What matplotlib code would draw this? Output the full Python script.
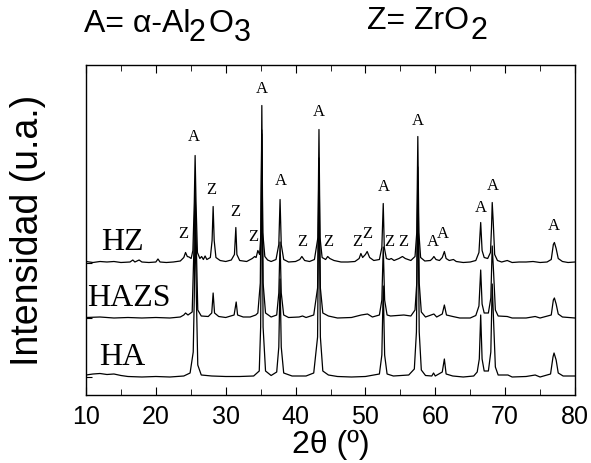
import numpy as np
import matplotlib
matplotlib.use("Agg")
import matplotlib.pyplot as plt
from matplotlib.ticker import MultipleLocator

# XRD patterns, 2theta (deg) and intensity above each curve's own baseline (a.u.)
hz_2t = [10.0, 11.0, 12.0, 13.0, 14.0, 15.0, 16.3, 16.7, 17.0, 17.6, 18.0, 19.0, 20.0, 20.3, 20.6,
         21.5, 22.5, 23.5, 24.0, 24.25, 24.5, 24.75, 25.05, 25.3, 25.5, 25.62, 25.75, 25.95, 26.3,
         26.55, 26.8, 27.05, 27.3, 27.8, 28.05, 28.2, 28.35, 28.6, 29.2, 30.0, 30.8, 31.25, 31.45,
         31.6, 32.0, 33.0, 33.8, 34.15, 34.35, 34.6, 34.85, 35.05, 35.17, 35.3, 35.6, 36.0, 36.5,
         37.2, 37.6, 37.78, 37.95, 38.3, 39.0, 40.0, 40.6, 40.9, 41.3, 42.0, 42.7, 43.2, 43.35,
         43.5, 43.8, 44.3, 44.6, 44.9, 45.5, 46.5, 47.5, 48.5, 49.1, 49.35, 49.6, 50.0, 50.25,
         50.6, 51.2, 52.0, 52.35, 52.55, 52.7, 53.0, 53.4, 53.7, 54.1, 54.8, 55.3, 55.7, 56.5,
         57.1, 57.35, 57.5, 57.65, 57.9, 58.5, 59.3, 59.6, 59.8, 60.1, 60.6, 61.0, 61.3, 61.55,
         62.0, 62.6, 63.0, 64.0, 65.0, 65.8, 66.25, 66.5, 66.7, 67.0, 67.5, 67.9, 68.05, 68.15,
         68.3, 68.5, 68.9, 69.5, 70.3, 71.0, 72.0, 73.0, 74.0, 75.0, 76.0, 76.6, 76.9, 77.05,
         77.3, 77.6, 78.2, 79.0, 80.0]
hz_int = [1, 0, 1, 0.5, 1, 0, 0.5, 2.5, 0.5, 2.5, 0.5, 0, 0.5, 3.5, 0.5,
          0, 0.5, 1.5, 5, 10, 6, 5.5, 4, 12, 60, 107, 60, 10, 4,
          6, 3, 6.5, 3, 5, 22, 56, 22, 5, 2, 1, 2.5, 8, 35,
          8, 2, 1, 4, 6, 5, 12, 8, 30, 157, 30, 6, 2.5, 1,
          3, 18, 63, 18, 3, 0.5, 1, 3, 6, 2, 1, 3, 25, 133,
          25, 5, 3, 6, 4, 2, 0.5, 0.5, 1, 4, 9, 5, 8, 11,
          5, 2, 3, 15, 59, 15, 4, 3, 4, 2, 4, 6, 4, 2,
          6, 30, 126, 30, 5, 1.5, 2, 4, 6, 3, 2, 5, 11, 4,
          2, 3, 1, 0, 0.5, 2, 10, 40, 12, 5, 4, 10, 35, 60,
          40, 8, 2, 0.5, 2, 0, 0.5, 0.5, 1, 0, 0.5, 3, 18, 20,
          14, 4, 1, 0, 0.5]

hazs_2t = [10.0, 12.0, 14.0, 16.0, 18.0, 20.0, 22.0, 23.5, 24.0, 24.25, 24.6, 25.2, 25.45, 25.62,
           25.8, 26.0, 26.5, 27.5, 28.0, 28.2, 28.4, 29.0, 30.0, 31.2, 31.5, 31.7, 32.5, 33.5,
           34.3, 34.6, 34.95, 35.17, 35.35, 35.7, 36.5, 37.3, 37.6, 37.78, 37.95, 38.3, 39.0,
           40.5, 41.0, 41.5, 42.6, 43.15, 43.35, 43.55, 43.9, 44.7, 46.0, 48.0, 49.4, 50.3, 51.0,
           52.0, 52.35, 52.55, 52.75, 53.1, 53.6, 55.5, 56.5, 57.1, 57.35, 57.5, 57.7, 58.0, 58.6,
           59.8, 60.2, 61.0, 61.3, 61.6, 62.5, 63.5, 65.0, 65.8, 66.25, 66.5, 66.7, 67.0, 67.6,
           67.95, 68.15, 68.35, 68.6, 69.0, 70.3, 71.0, 73.0, 74.3, 75.0, 76.6, 76.9, 77.05, 77.3,
           77.6, 78.2, 80.0]
hazs_int = [0.5, 1, 0, 0.5, 0, 0.5, 0, 1, 3, 5, 3, 6, 70, 128,
            70, 8, 2, 1.5, 5, 25, 5, 1.5, 0.5, 3, 16, 3, 1, 1,
            3, 5, 35, 188, 35, 5, 1, 3, 25, 76, 25, 3, 0.5,
            1, 2, 0.5, 3, 30, 160, 30, 5, 2, 0, 0.5, 3, 4, 1,
            3, 18, 71, 18, 3, 2, 3, 2, 8, 35, 151, 35, 6, 1,
            4, 1, 4, 13, 3, 1.5, 0, 0, 2.5, 12, 48, 14, 5, 5,
            20, 72, 45, 8, 2, 1.5, 0, 0, 1.5, 0, 3, 18, 20, 14,
            4, 1, 0]

ha_2t = [10.0, 11.0, 12.0, 13.0, 14.0, 15.0, 16.0, 18.0, 20.0, 22.0, 24.0, 24.9, 25.35, 25.5,
         25.62, 25.8, 26.0, 26.5, 28.0, 30.0, 32.0, 34.0, 34.8, 35.0, 35.17, 35.35, 35.7, 36.5,
         37.3, 37.6, 37.78, 37.95, 38.3, 39.5, 41.5, 42.6, 43.15, 43.35, 43.55, 43.9, 44.7,
         46.0, 48.0, 50.0, 52.0, 52.35, 52.55, 52.75, 53.1, 54.0, 56.2, 57.0, 57.3, 57.5, 57.7,
         58.0, 58.6, 59.5, 59.75, 60.0, 61.0, 61.3, 61.55, 62.5, 64.0, 65.5, 66.0, 66.3, 66.5,
         66.7, 67.0, 67.6, 67.95, 68.15, 68.35, 68.6, 69.0, 70.4, 71.0, 73.0, 74.3, 75.0, 76.5,
         76.85, 77.0, 77.3, 77.6, 78.3, 80.0]
ha_int = [2, 3, 3.5, 2.5, 3, 1.5, 0.5, 0, 0.5, 0, 1, 4, 25, 80,
          166, 80, 12, 2, 1, 0.5, 0.5, 1, 6, 50, 243, 50, 6, 1.5,
          5, 30, 98, 30, 4, 1, 1, 4, 40, 206, 40, 6, 2,
          0.5, 0, 0.5, 3, 22, 91, 22, 3, 1, 2, 8, 45, 195, 45,
          7, 1.5, 1, 4, 1, 5, 18, 3, 1, 0, 1, 5, 18, 62,
          18, 6, 6, 25, 93, 55, 10, 2, 2, 0, 0.5, 2, 0, 3,
          20, 24, 17, 4, 1, 1]

series_names = ["HZ", "HAZS", "HA"]

# phase marks above the peaks: (2theta, height, letter)
peak_marks = [
    (25.5, 258, "A"), (35.2, 306, "A"), (37.9, 214, "A"), (43.4, 283, "A"),
    (52.6, 208, "A"), (57.5, 274, "A"), (59.6, 153, "A"), (61.1, 161, "A"),
    (66.5, 187, "A"), (68.3, 209, "A"), (77.0, 169, "A"),
    (23.9, 161, "Z"), (28.0, 205, "Z"), (31.4, 183, "Z"), (33.9, 158, "Z"),
    (40.9, 153, "Z"), (44.7, 153, "Z"), (48.9, 153, "Z"), (50.3, 161, "Z"),
    (53.4, 153, "Z"), (55.4, 153, "Z"),
]

# vertical shift of each pattern
offsets = {"HZ": 132.5, "HAZS": 77, "HA": 18}
name_pos = {"HZ": 12.1, "HAZS": 10.2, "HA": 11.9}

plt.rcParams["font.family"] = ["Liberation Sans", "DejaVu Sans"]

W, H = 591, 463
fig = plt.figure(figsize=(W / 100, H / 100), dpi=100)
ax = fig.add_axes([86 / W, (H - 395) / H, 489 / W, 330 / H])

data = {"HZ": (hz_2t, hz_int), "HAZS": (hazs_2t, hazs_int), "HA": (ha_2t, ha_int)}
for name in series_names:
    t, i = data[name]
    ax.plot(t, np.array(i) + offsets[name], color="black", lw=0.9)
    ax.text(name_pos[name], offsets[name] + 12, name, family="Liberation Serif",
            fontsize=23, ha="left", va="baseline")

for t, y, lab in peak_marks:
    ax.text(t, y, lab, family="Liberation Serif", fontsize=12, ha="center", va="center")

ax.set_xlim(10, 80)
ax.set_ylim(0, 330)
ax.xaxis.set_major_locator(MultipleLocator(10))
ax.xaxis.set_minor_locator(MultipleLocator(5))
ax.tick_params(axis="x", which="both", direction="in", top=True, labelsize=18, pad=7)
ax.tick_params(axis="x", which="major", length=6)
ax.tick_params(axis="x", which="minor", length=4)
ax.set_yticks([offsets[n] for n in series_names])
ax.tick_params(axis="y", direction="in", length=4, labelleft=False)
for s in ax.spines.values():
    s.set_linewidth(1.0)

ax.set_xlabel("2θ (º)", fontsize=23, labelpad=1)
ax.set_ylabel("Intensidad (u.a.)", fontsize=27, labelpad=29)

# header with chemical formulas, subscripts drawn as lowered digits
def px(x, y):
    return x / W, y / H

fig.text(*px(84, 431), "A= α-Al", fontsize=23, va="baseline")
fig.text(*px(189, 422), "2", fontsize=22, va="baseline")
fig.text(*px(208, 431), "O", fontsize=23, va="baseline")
fig.text(*px(234, 422), "3", fontsize=22, va="baseline")
fig.text(*px(367, 434), "Z= ZrO", fontsize=23, va="baseline")
fig.text(*px(471, 424), "2", fontsize=22, va="baseline")

fig.savefig("out.png", dpi=100)
